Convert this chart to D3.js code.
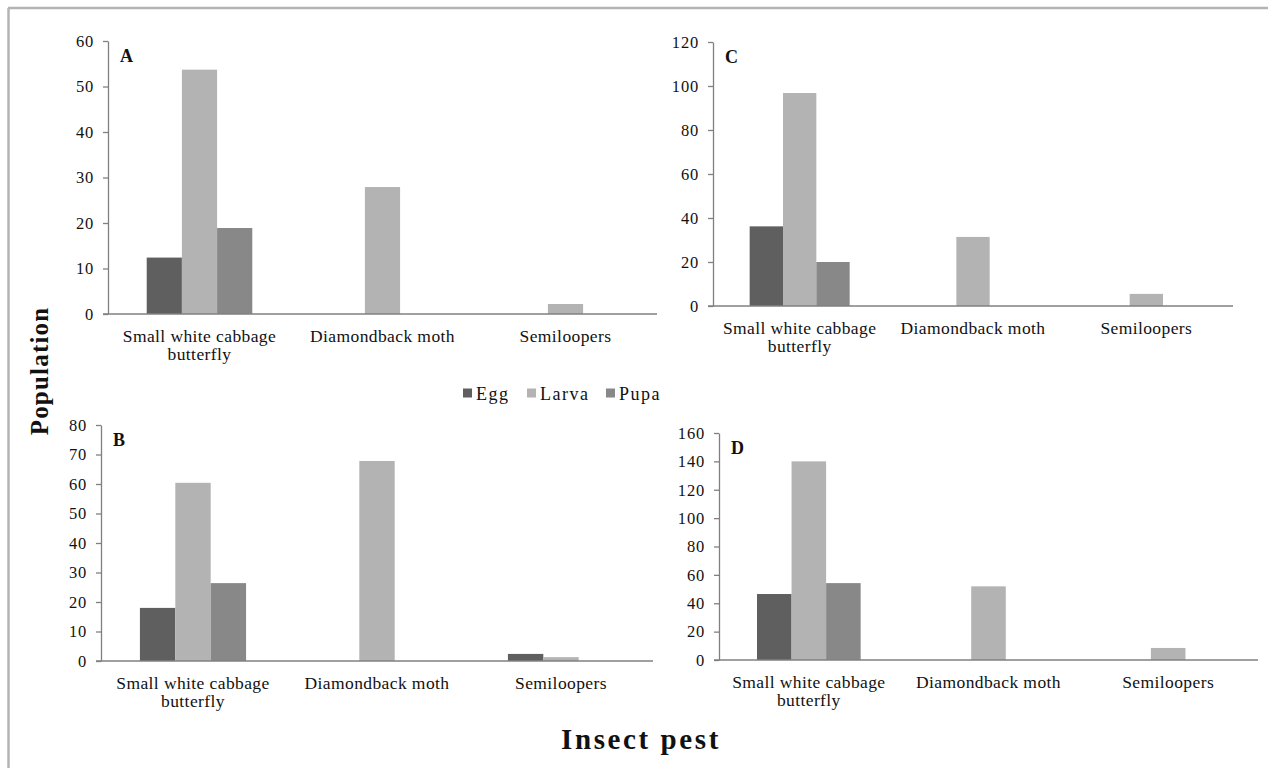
<!DOCTYPE html>
<html>
<head>
<meta charset="utf-8">
<script src="https://cdn.jsdelivr.net/npm/d3@7"></script>
<style>
  body { margin: 0; background: #fff; }
  svg { display: block; font-family: "Liberation Serif", "Times New Roman", serif; }
</style>
</head>
<body>
<div id="okvir"></div>
<script>
// podatci
const kategorije = ["Small white cabbage butterfly", "Diamondback moth", "Semiloopers"];
const stadiji = ["Egg", "Larva", "Pupa"];
const boje = ["#5f5f5f", "#b3b3b3", "#888888"];

// po panelu: vrijednosti [Egg, Larva, Pupa] za svaku kategoriju
const panelA = [[12.4, 53.7, 18.9], [0, 27.9, 0], [0, 2.2, 0]];
const panelB = [[18, 60.4, 26.4], [0, 67.8, 0], [2.4, 1.3, 0]];
const panelC = [[36.2, 96.8, 20], [0, 31.4, 0], [0, 5.5, 0]];
const panelD = [[46.5, 140, 54.2], [0, 51.9, 0], [0, 8.5, 0]];

const tickoviA = [0, 10, 20, 30, 40, 50, 60];
const tickoviB = [0, 10, 20, 30, 40, 50, 60, 70, 80];
const tickoviC = [0, 20, 40, 60, 80, 100, 120];
const tickoviD = [0, 20, 40, 60, 80, 100, 120, 140, 160];

const sirina = 1268, visina = 768;

const okvir = d3.select("#okvir").append("svg")
    .attr("width", sirina)
    .attr("height", visina);

// sivi okvir
okvir.append("line").attr("x1", 8).attr("x2", sirina).attr("y1", 8).attr("y2", 8)
    .attr("stroke", "#b4b4b4").attr("stroke-width", 2.5);
okvir.append("line").attr("x1", 8.5).attr("x2", 8.5).attr("y1", 8).attr("y2", visina)
    .attr("stroke", "#b4b4b4").attr("stroke-width", 2.5);

function crtajPanel(podatci, tickovi, slovo, dim) {
    const xSkala = d3.scaleBand()
        .domain(kategorije)
        .range([dim.x0, dim.x1]);

    const xUnutra = d3.scaleBand()
        .domain(stadiji)
        .range([0, xSkala.bandwidth()])
        .paddingInner(0)
        .paddingOuter(dim.pad);

    const ySkala = d3.scaleLinear()
        .domain([0, d3.max(tickovi)])
        .range([dim.y0, dim.y1]);

    const g = okvir.append("g");

    // stupci
    const grupe = g.selectAll(".grupa")
        .data(kategorije)
        .join("g")
        .attr("transform", d => `translate(${xSkala(d)},0)`);

    grupe.selectAll("rect")
        .data((d, i) => stadiji.map((s, j) => ({ s: s, v: podatci[i][j], c: boje[j] })))
        .join("rect")
        .attr("x", d => xUnutra(d.s))
        .attr("y", d => ySkala(d.v))
        .attr("width", xUnutra.bandwidth())
        .attr("height", d => dim.y0 - ySkala(d.v))
        .attr("fill", d => d.c);

    // y os
    const yOs = g.append("g")
        .attr("transform", `translate(${dim.x0},0)`)
        .call(d3.axisLeft(ySkala).tickValues(tickovi).tickSize(5).tickSizeOuter(0).tickPadding(9));
    yOs.select(".domain").attr("stroke", "#808080").attr("stroke-width", 1.3);
    yOs.selectAll(".tick line").attr("stroke", "#808080").attr("stroke-width", 1.3);
    yOs.selectAll(".tick text")
        .attr("font-size", 16.5)
        .attr("letter-spacing", 0.8)
        .attr("font-family", "Liberation Serif")
        .attr("fill", "#111");

    // x os
    g.append("line")
        .attr("x1", dim.x0 - 5).attr("x2", dim.x1)
        .attr("y1", dim.y0).attr("y2", dim.y0)
        .attr("stroke", "#808080").attr("stroke-width", 1.6);

    // oznake kategorija
    const oznake = g.selectAll(".oznaka")
        .data(kategorije)
        .join("text")
        .attr("text-anchor", "middle")
        .attr("font-size", 17.5)
        .attr("letter-spacing", 0.4)
        .attr("fill", "#111")
        .attr("x", d => xSkala(d) + xSkala.bandwidth() / 2)
        .attr("y", dim.y0 + 27.5);
    oznake.each(function (d) {
        const t = d3.select(this);
        if (d === "Small white cabbage butterfly") {
            t.append("tspan").attr("x", t.attr("x")).text("Small white cabbage");
            t.append("tspan").attr("x", t.attr("x")).attr("dy", 18.5).text("butterfly");
        } else {
            t.text(d);
        }
    });

    // slovo panela
    g.append("text")
        .attr("x", dim.x0 + 12)
        .attr("y", dim.y1 + 21)
        .attr("font-size", 18)
        .attr("font-weight", "bold")
        .attr("fill", "#111")
        .text(slovo);
}

crtajPanel(panelA, tickoviA, "A", { x0: 108, x1: 657, y0: 314, y1: 41, pad: 1.1 });
crtajPanel(panelC, tickoviC, "C", { x0: 713, x1: 1233, y0: 306, y1: 42, pad: 1.1 });
crtajPanel(panelB, tickoviB, "B", { x0: 101, x1: 653, y0: 661, y1: 425, pad: 1.1 });
crtajPanel(panelD, tickoviD, "D", { x0: 719, x1: 1258, y0: 660, y1: 433, pad: 1.1 });

// legenda
const legenda = okvir.append("g");
const legX = [463, 527, 606];
stadiji.forEach((s, i) => {
    legenda.append("rect")
        .attr("x", legX[i]).attr("y", 388.5)
        .attr("width", 9).attr("height", 9)
        .attr("fill", boje[i]);
    legenda.append("text")
        .attr("x", legX[i] + 13).attr("y", 400)
        .attr("font-size", 18)
        .attr("letter-spacing", 1.5)
        .attr("fill", "#111")
        .text(s);
});

// naslovi osi
okvir.append("text")
    .attr("transform", "translate(48,371) rotate(-90)")
    .attr("text-anchor", "middle")
    .attr("font-size", 25)
    .attr("letter-spacing", 1.2)
    .attr("font-weight", "bold")
    .attr("fill", "#111")
    .text("Population");

okvir.append("text")
    .attr("x", 641).attr("y", 749)
    .attr("text-anchor", "middle")
    .attr("font-size", 29)
    .attr("letter-spacing", 2.6)
    .attr("font-weight", "bold")
    .attr("fill", "#111")
    .text("Insect pest");
</script>
</body>
</html>
